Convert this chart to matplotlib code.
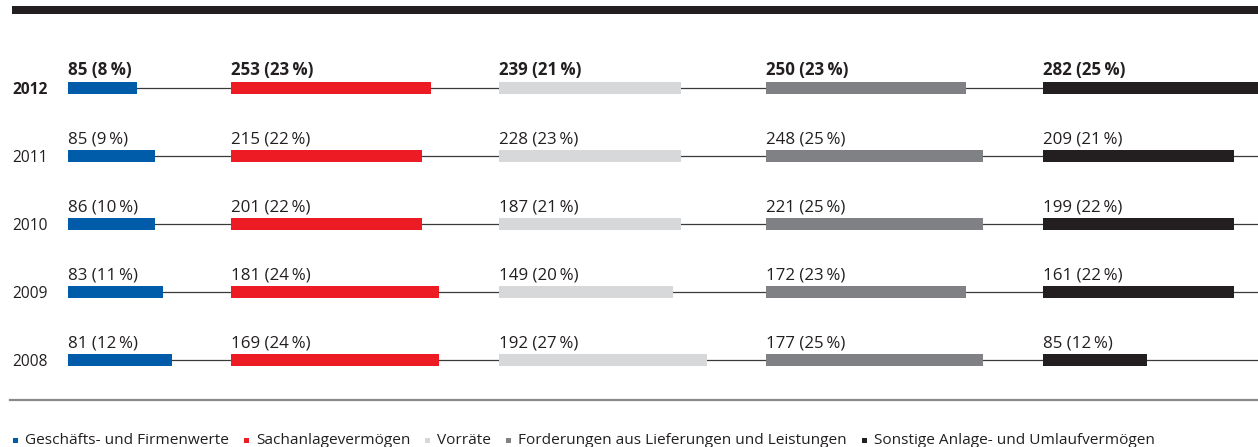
#!/usr/bin/env python3
import matplotlib
matplotlib.use('Agg')

import matplotlib.pyplot as plt

# Jahre (oben das aktuelle Jahr)
years = ['2012', '2011', '2010', '2009', '2008']

categories = [
    'Geschäfts- und Firmenwerte',
    'Sachanlagevermögen',
    'Vorräte',
    'Forderungen aus Lieferungen und Leistungen',
    'Sonstige Anlage- und Umlaufvermögen',
]

# Beträge je Kategorie (2012 ... 2008)
goodwill_amt = [85, 85, 86, 83, 81]
sachanlagen_amt = [253, 215, 201, 181, 169]
vorraete_amt = [239, 228, 187, 149, 192]
forderungen_amt = [250, 248, 221, 172, 177]
sonstige_amt = [282, 209, 199, 161, 85]

# Anteile in % (Beschriftung)
goodwill_pct = [8, 9, 10, 11, 12]
sachanlagen_pct = [23, 22, 22, 24, 24]
vorraete_pct = [21, 23, 21, 20, 27]
forderungen_pct = [23, 25, 25, 23, 25]
sonstige_pct = [25, 21, 22, 22, 12]

# Balkenlängen in % wie im Bild gezeichnet
goodwill_bar = [8, 10, 10, 11, 12]
sachanlagen_bar = [23, 22, 22, 24, 24]
vorraete_bar = [21, 21, 21, 20, 24]
forderungen_bar = [23, 25, 25, 23, 25]
sonstige_bar = [25, 22, 22, 22, 12]

colors = ['#005ba9', '#ed1c24', '#d7d8da', '#808184', '#231f20']
text_color = '#231f20'

amounts = [goodwill_amt, sachanlagen_amt, vorraete_amt, forderungen_amt, sonstige_amt]
pcts = [goodwill_pct, sachanlagen_pct, vorraete_pct, forderungen_pct, sonstige_pct]
bars = [goodwill_bar, sachanlagen_bar, vorraete_bar, forderungen_bar, sonstige_bar]

# Layout (Pixel)
W, H = 1258, 447
col_x = [68, 231, 499, 766, 1043]
row_y = [88, 156, 224, 292, 360]
px_per_pct = 8.68
bar_h = 12

plt.rcParams['font.family'] = ['Open Sans', 'DejaVu Sans']

fig = plt.figure(figsize=(W / 100, H / 100), dpi=100)
ax = fig.add_axes([0, 0, 1, 1])
ax.set_xlim(0, W)
ax.set_ylim(H, 0)
ax.axis('off')

# Oberer Balken
ax.barh(10, W - 12, left=12, height=8, color='#231f20')

for r, (year, y) in enumerate(zip(years, row_y)):
    weight = 'bold' if r == 0 else 'normal'
    # Verbindungslinie
    ax.plot([col_x[0], W], [y, y], color='#3a3a3a', lw=0.9, zorder=1)
    ax.text(12, y + 6, year, fontsize=11.2, fontweight=weight,
            color=text_color, va='baseline', ha='left')
    for c in range(len(categories)):
        ax.barh(y, bars[c][r] * px_per_pct, left=col_x[c], height=bar_h,
                color=colors[c], zorder=2)
        label = f'{amounts[c][r]} ({pcts[c][r]}\u2009%)'
        ax.text(col_x[c], y - 13, label, fontsize=12.2, fontweight=weight,
                color=text_color, va='baseline', ha='left')

# Untere Trennlinie
ax.plot([10, W], [400, 400], color='#8a8a8a', lw=1.6)

# Legende: Einträge nacheinander anhand der Textbreite setzen
renderer = fig.canvas.get_renderer()
x = 13
for c, name in enumerate(categories):
    ax.barh(440, 5, left=x, height=5, color=colors[c])
    t = ax.text(x + 12, 444.5, name, fontsize=11.1, color=text_color,
                va='baseline', ha='left')
    bb = t.get_window_extent(renderer=renderer)
    x = x + 12 + bb.width + 15

plt.savefig('out.png', dpi=100)
plt.close(fig)
